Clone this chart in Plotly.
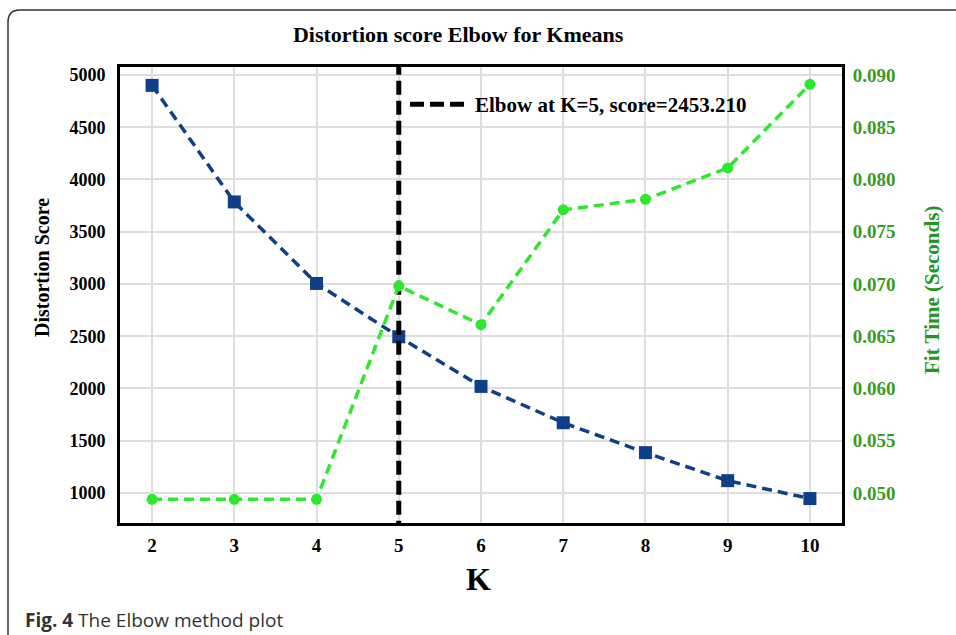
import plotly.graph_objects as go

k_values = [2, 3, 4, 5, 6, 7, 8, 9, 10]
distortion = [4900, 3785, 3005, 2495, 2020, 1672, 1386, 1118, 947]
fit_time = [0.0494, 0.0494, 0.0494, 0.0698, 0.0661, 0.0771, 0.0781, 0.0811, 0.0891]
elbow_k = 5
elbow_score = 2453.210
left_ticks = [1000, 1500, 2000, 2500, 3000, 3500, 4000, 4500, 5000]
right_ticks = [0.050, 0.055, 0.060, 0.065, 0.070, 0.075, 0.080, 0.085, 0.090]

SERIF = "Liberation Serif"
BLUE = "#0f3f86"
GREEN = "#2ee82e"
TICKGREEN = "#3a9a22"

# plot-area geometry (px) for paper conversions
L, R, T, B = 120, 114, 67, 112
W, H = 956, 635
PW, PH = W - L - R, H - T - B
def px(x):
    return (x - L) / PW
def py(y):
    return (H - B - y) / PH

fig = go.Figure()

fig.add_trace(go.Scatter(
    x=k_values, y=distortion, mode="lines+markers",
    line=dict(color=BLUE, width=3.5, dash="10px,6px"),
    marker=dict(symbol="square", size=13, color=BLUE),
    showlegend=False, yaxis="y"))

fig.add_trace(go.Scatter(
    x=k_values, y=fit_time, mode="lines+markers",
    line=dict(color=GREEN, width=3.5, dash="10px,6px"),
    marker=dict(symbol="circle", size=11, color=GREEN),
    showlegend=False, yaxis="y2"))

fig.add_trace(go.Scatter(
    x=[elbow_k, elbow_k], y=[600, 5200], mode="lines",
    line=dict(color="black", width=5, dash="14px,6px"),
    name=f"Elbow at K={elbow_k}, score={elbow_score:.3f}",
    showlegend=True, yaxis="y"))

fig.update_layout(
    width=W, height=H,
    margin=dict(l=L, r=R, t=T, b=B),
    paper_bgcolor="white", plot_bgcolor="white",
    showlegend=True,
    legend=dict(x=px(405), y=py(84), xanchor="left", yanchor="top",
                bgcolor="rgba(0,0,0,0)", borderwidth=0,
                font=dict(family=SERIF, size=21, color="black", weight="bold"),
                itemwidth=60),
    title=dict(text="Distortion score Elbow for Kmeans", x=px(466), xanchor="center",
               y=1 - 34 / H, yanchor="middle",
               font=dict(family=SERIF, size=22, color="black", weight="bold")),
    xaxis=dict(range=[1.61, 10.39], tickvals=k_values, ticktext=[str(k) for k in k_values],
               showgrid=True, gridcolor="#dedede", gridwidth=1.5,
               showline=True, linecolor="black", linewidth=3, mirror=True,
               ticks="outside", ticklen=3, tickcolor="rgba(0,0,0,0)",
               tickfont=dict(family=SERIF, size=19, color="black", weight="bold"),
               zeroline=False),
    yaxis=dict(range=[713, 5076], tickvals=left_ticks, ticktext=[str(v) for v in left_ticks],
               showgrid=True, gridcolor="#dedede", gridwidth=1.5,
               showline=True, linecolor="black", linewidth=3, mirror=True,
               ticks="outside", ticklen=8, tickcolor="rgba(0,0,0,0)",
               tickfont=dict(family=SERIF, size=18, color="black", weight="bold"),
               zeroline=False),
    yaxis2=dict(range=[0.04713, 0.09076], tickvals=right_ticks,
                ticktext=[f"{v:.3f}" for v in right_ticks],
                overlaying="y", side="right", showgrid=False,
                showline=False,
                ticks="outside", ticklen=6, tickcolor="rgba(0,0,0,0)",
                tickfont=dict(family=SERIF, size=19, color=TICKGREEN, weight="bold"),
                zeroline=False),
)

annotations = [
    dict(text="Distortion Score", x=px(42), y=py(268), xref="paper", yref="paper",
         textangle=-90, showarrow=False, xanchor="center", yanchor="middle",
         font=dict(family=SERIF, size=20, color="black", weight="bold")),
    dict(text="Fit Time (Seconds)", x=px(932), y=py(290), xref="paper", yref="paper",
         textangle=-90, showarrow=False, xanchor="center", yanchor="middle",
         font=dict(family=SERIF, size=21, color="#229622", weight="bold")),
    dict(text="K", x=px(478), y=py(579), xref="paper", yref="paper",
         showarrow=False, xanchor="center", yanchor="middle",
         font=dict(family=SERIF, size=32, color="black", weight="bold")),
    dict(text="<b>Fig. 4</b> The Elbow method plot", x=px(23), y=py(620),
         xref="paper", yref="paper", showarrow=False, xanchor="left", yanchor="middle",
         font=dict(family="Open Sans", size=19, color="#333333")),
]
fig.update_layout(annotations=annotations)

# outer rounded frame
x0, y0 = px(8), py(10)
xr, yb = px(970), py(650)
rx, ry = 12 / PW, 12 / PH
path = (f"M {x0},{yb} L {x0},{y0 - ry} Q {x0},{y0} {x0 + rx},{y0} L {xr},{y0}")
fig.add_shape(type="path", path=path, xref="paper", yref="paper",
              line=dict(color="#333333", width=1.5), layer="above")

fig.write_html("out.html")
